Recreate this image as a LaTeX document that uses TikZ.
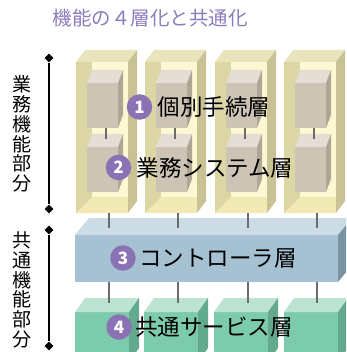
\documentclass[tikz,border=0pt]{standalone}
\usepackage{fontspec}
\setmainfont{Noto Sans CJK JP}
\usepackage{tikz}
\usetikzlibrary{shapes,arrows,positioning}

\definecolor{coltop}{HTML}{E9E4BB}
\definecolor{colwall}{HTML}{DCD5A4}
\definecolor{colback}{HTML}{FDF8D2}
\definecolor{colfloor}{HTML}{F2EAB5}
\definecolor{colside}{HTML}{C9C294}
\definecolor{procfront}{HTML}{CDC4B5}
\definecolor{proctop}{HTML}{E3DDD5}
\definecolor{procside}{HTML}{B0A696}
\definecolor{ctlfront}{HTML}{A6C2D2}
\definecolor{ctltop}{HTML}{CBDCE6}
\definecolor{ctlside}{HTML}{7A93A2}
\definecolor{svcfront}{HTML}{7DCBAD}
\definecolor{svctop}{HTML}{BDE3D2}
\definecolor{svcside}{HTML}{63A98E}
\definecolor{titlepurple}{HTML}{8C7CBF}
\definecolor{badgepurple}{HTML}{8A72B4}

\newcommand{\slab}[7]{%
\fill[#7front] (#1,#2) rectangle ++(#3,#4);
\fill[#7top] (#1,#2) -- ++(#5,-#6) -- ++(#3,0) -- ++(-#5,#6) -- cycle;
\fill[#7side] (#1+#3,#2) -- ++(#5,-#6) -- ++(0,#4) -- ++(-#5,#6) -- cycle;
}

\newcommand{\pillar}[2]{%
\fill[coltop] (#1,62) -- ++(9,-12) -- ++(52,0) -- ++(-9,12) -- cycle;
\fill[colwall] (#1,62) rectangle ++(52,151);
\fill[colback] (#1+16,62) rectangle (#1+52,197);
\fill[colfloor] (#1,213) -- (#1+16,197) -- (#1+52,197) -- (#1+52,213) -- cycle;
\fill[colside] (#1+52,62) -- ++(9,-12) -- ++(0,151) -- ++(-9,12) -- cycle;
\slab{#1+11}{83}{31}{45}{5}{13}{proc}
\slab{#1+11}{147}{31}{45}{5}{13}{proc}
\coordinate (pa#2) at (#1+30,128);
\coordinate (pb#2) at (#1+30,139);
\draw[link] (pa#2) -- (pb#2);
}

\begin{document}
\begin{tikzpicture}[x=1pt,y=-1pt,
  link/.style={draw=black!58,line width=2pt},
  badge/.style={circle,fill=badgepurple,text=white,inner sep=0,minimum size=25.5pt,font=\fontsize{17}{17}\selectfont\bfseries},
  layer/.style={inner sep=0,font=\fontsize{22.5}{22.5}\selectfont},
  part/.style={align=center,inner sep=0,font=\fontsize{19}{19.7}\selectfont},
  tick/.style={diamond,fill=black,inner sep=0,minimum size=9pt}]
\useasboundingbox (0,0) rectangle (346,352);
\clip (0,0) rectangle (346,352);

\node[text=titlepurple,font=\fontsize{19.5}{19.5}\selectfont] (title) at (150,18) {機能の４層化と共通化};

\foreach \x [count=\i] in {76,145,215,284} {\pillar{\x}{\i}}

\slab{75}{235}{263}{47}{14}{17}{ctl}
\foreach \x [count=\i] in {76,145,215,284} {
  \coordinate (cu\i) at (\x+33,213);
  \coordinate (cd\i) at (\x+33,228);
  \draw[link] (cu\i) -- (cd\i);
}

\foreach \x in {75,144,214,284} {\slab{\x}{312}{54}{50}{10}{14}{svc}}
\foreach \x [count=\i] in {76,145,215,284} {
  \coordinate (su\i) at (\x+33,282);
  \coordinate (sd\i) at (\x+33,303);
  \draw[link] (su\i) -- (sd\i);
}

\node[badge] (n1) at (139.5,107) {1};
\node[layer,right=5pt of n1] (l1) {個別手続層};
\node[badge] (n2) at (118.5,167.5) {2};
\node[layer,right=5pt of n2] (l2) {業務システム層};
\node[badge] (n3) at (123,258) {3};
\node[layer,right=3pt of n3] (l3) {コントローラ層};
\node[badge] (n4) at (119,327) {4};
\node[layer,right=3pt of n4] (l4) {共通サービス層};

\node[tick] (b1) at (49,58) {};
\node[tick] (b2) at (49,209) {};
\node[tick] (b3) at (49,230) {};
\node[tick] (b4) at (49,346) {};
\draw[line width=1.3pt] (b1) -- (b2);
\draw[line width=1.3pt] (b3) -- (b4);

\node[part] (biz) at (22,134) {業\\務\\機\\能\\部\\分};
\node[part] (common) at (22,290) {共\\通\\機\\能\\部\\分};
\end{tikzpicture}
\end{document}
